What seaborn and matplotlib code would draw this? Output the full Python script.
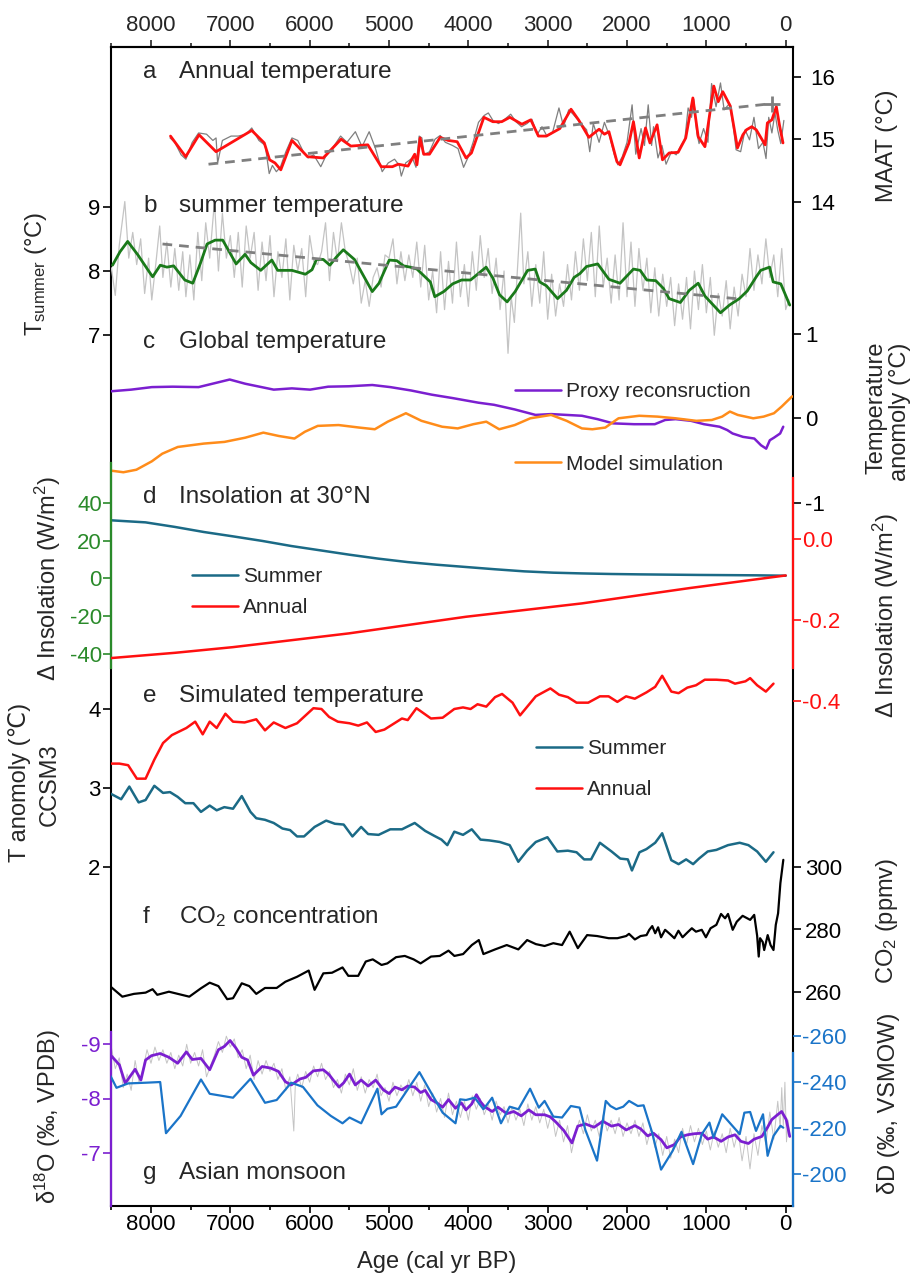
import matplotlib
matplotlib.use("Agg")
import matplotlib.pyplot as plt
import seaborn as sns

# ---------------- data ----------------
x_major = [8000, 7000, 6000, 5000, 4000, 3000, 2000, 1000, 0]
x_minor = [8500, 7500, 6500, 5500, 4500, 3500, 2500, 1500, 500]

# a  annual temperature (MAAT)
maat_age = [7754,7563,7394,7180,6730,6572,6505,6437,6364,6223,6026,5829,5604,5481,5267,5098,4957,4884,4760,4676,
            4648,4608,4563,4490,4355,4254,4141,4029,3961,3804,3691,3579,3477,3325,3213,3117,3016,2847,2706,2611,
            2481,2352,2285,2228,2127,2088,1975,1919,1846,1767,1711,1621,1553,1469,1356,1260,1170,1103,1018,906,
            850,793,698,608,540,495,428,371,259,231,174,118,79,34]
maat_val = [15.05,14.72,15.07,14.80,15.14,14.94,14.67,14.62,14.51,14.98,14.72,14.70,15.00,14.89,14.91,14.56,14.56,14.60,14.57,14.76,
            14.59,15.02,14.76,14.76,15.03,14.98,14.96,14.70,14.78,15.35,15.28,15.28,15.35,15.24,15.31,15.05,15.05,15.17,15.48,15.31,
            15.03,15.16,15.08,15.12,14.64,14.59,14.94,15.28,14.70,15.18,14.94,15.23,14.67,14.78,14.79,15.02,15.66,15.04,14.88,15.85,
            15.60,15.76,15.53,14.86,15.07,15.15,15.20,15.15,14.91,15.26,15.31,15.52,15.23,14.94]
maat_raw_age = [7760,7700,7620,7560,7480,7400,7300,7220,7180,7160,
                7100,6990,6900,6800,6730,6640,6560,6510,6470,6420,
                6370,6300,6223,6150,6080,6020,5950,5860,5800,5700,
                5610,5530,5424,5340,5250,5170,5086,5010,4930,4870,
                4845,4790,4705,4660,4620,4585,4560,4490,4420,4355,
                4290,4200,4130,4060,4000,3940,3872,3800,3748,3690,
                3620,3540,3466,3400,3330,3260,3200,3130,3072,3010,
                2940,2858,2800,2735,2680,2594,2509,2470,2425,2352,
                2285,2220,2160,2116,2060,2000,1936,1890,1823,1780,
                1733,1690,1666,1610,1560,1508,1440,1380,1320,1271,
                1230,1187,1159,1120,1092,1035,980,934,878,822,
                776,709,660,625,568,512,456,400,343,287,
                248,214,174,135,101,62,23]
maat_raw_val = [15.02,14.95,14.75,14.68,14.95,15.10,15.08,14.98,15.02,14.62,
                14.98,15.05,15.05,15.08,15.18,14.98,14.90,14.45,14.58,14.48,
                14.55,14.80,15.02,14.98,14.80,14.70,14.75,14.56,14.72,14.88,
                15.05,14.95,15.12,14.88,15.12,14.85,14.48,14.62,14.68,14.58,
                14.41,14.62,14.70,14.55,15.05,15.02,14.75,14.80,15.00,15.06,
                14.95,14.90,14.85,14.55,14.72,14.95,15.27,15.38,15.42,15.30,
                15.25,15.32,15.40,15.28,15.20,15.25,15.32,15.08,15.20,15.05,
                15.10,15.50,15.20,15.47,15.40,15.27,15.15,14.80,15.25,14.95,
                15.27,15.05,14.75,14.59,14.72,14.95,15.55,14.76,15.17,14.90,
                15.55,14.90,15.20,14.70,14.90,14.60,14.80,14.75,14.90,15.00,
                15.50,15.35,15.64,15.10,14.93,15.17,14.95,15.89,15.52,15.90,
                15.47,15.57,15.20,14.83,14.80,15.15,14.99,15.35,14.85,14.95,
                14.69,15.35,15.10,15.42,15.15,14.93,15.30]
maat_trend_age = [7275, 170]
maat_trend_val = [14.60, 15.57]

# b  summer temperature
tsum_age = [8485,8390,8294,8165,8024,7979,7883,7799,7714,7574,
            7473,7377,7293,7191,7096,7023,6927,6814,6741,6617,
            6477,6403,6223,6054,5970,5914,5829,5745,5661,5576,
            5436,5211,5126,4997,4901,4817,4732,4648,4479,4423,
            4310,4198,4085,3972,3776,3691,3607,3511,3410,3253,
            3157,3101,3016,2875,2763,2667,2594,2510,2369,2228,
            2088,1919,1834,1750,1638,1542,1469,1328,1215,1103,
            1018,822,709,585,484,371,315,203,158,62,-51]
tsum_val = [8.09,8.30,8.46,8.25,7.99,7.91,8.09,8.06,8.08,7.86,
            7.81,8.12,8.42,8.48,8.48,8.32,8.11,8.26,8.13,8.01,
            8.17,8.01,8.01,7.95,8.02,8.18,8.18,8.09,8.22,8.33,
            8.18,7.68,7.81,8.17,8.16,8.08,8.06,8.03,7.83,7.60,
            7.68,7.80,7.86,7.86,8.06,7.89,7.63,7.52,7.68,8.01,
            8.03,7.83,7.77,7.57,7.70,7.90,7.96,8.07,8.11,7.87,
            7.81,8.03,8.01,7.86,7.85,7.73,7.57,7.51,7.70,7.81,
            7.61,7.35,7.47,7.57,7.69,7.91,8.01,8.06,7.83,7.80,7.47]
tsum_raw_age = [8500,8450,8400,8330,8280,8230,8180,8130,8080,8030,
                7990,7940,7890,7850,7800,7750,7700,7650,7600,7560,
                7510,7460,7410,7360,7310,7260,7200,7150,7100,7050,
                7000,6950,6900,6850,6800,6750,6700,6650,6600,6550,
                6500,6450,6400,6350,6300,6250,6200,6150,6100,6050,
                6000,5950,5900,5850,5800,5750,5700,5650,5600,5550,
                5500,5450,5400,5350,5300,5250,5200,5150,5100,5050,
                5000,4950,4900,4850,4800,4750,4700,4650,4600,4550,
                4500,4450,4400,4350,4300,4250,4200,4150,4100,4050,
                4000,3950,3900,3850,3800,3750,3700,3650,3600,3550,
                3500,3460,3420,3380,3340,3300,3250,3200,3150,3100,
                3050,3000,2950,2900,2850,2800,2750,2700,2650,2600,
                2550,2500,2450,2400,2350,2300,2250,2200,2150,2100,
                2050,2000,1950,1900,1850,1800,1750,1700,1650,1600,
                1550,1500,1450,1400,1350,1300,1250,1200,1150,1100,
                1050,1000,950,900,850,800,750,700,650,600,
                550,500,450,400,350,300,250,200,150,100,
                50,0,-40]
tsum_raw_val = [8.05,7.62,8.40,9.08,8.20,8.60,8.10,8.50,7.65,8.20,
                7.55,8.10,8.70,7.90,8.45,7.75,8.35,7.70,8.30,7.60,
                8.25,7.55,8.60,7.85,8.75,8.20,9.08,8.00,8.90,8.20,
                8.55,7.90,8.60,7.75,8.70,8.20,8.60,7.70,8.45,7.85,
                8.55,7.60,8.30,7.90,8.50,7.55,8.40,8.00,8.35,7.60,
                8.55,8.15,8.10,8.30,8.75,7.85,8.60,8.15,8.75,8.30,
                8.10,7.80,8.20,7.50,7.85,7.45,7.90,8.05,7.75,8.25,
                8.20,8.50,7.80,8.30,7.85,8.25,7.90,8.45,7.75,8.40,
                7.55,8.00,7.35,8.30,7.40,8.15,7.50,8.45,7.60,8.10,
                7.45,8.30,7.70,8.55,7.90,8.35,7.65,8.20,7.40,8.00,
                6.72,7.60,7.20,8.05,8.90,7.80,8.30,7.45,8.10,7.50,
                8.30,7.25,7.95,7.30,7.80,7.45,8.10,7.55,8.30,7.70,
                8.50,7.85,8.60,7.60,8.70,7.75,8.20,7.50,8.25,7.55,
                8.75,7.60,8.45,7.45,8.35,7.70,8.20,7.35,8.05,7.30,
                7.95,7.45,7.90,7.15,7.80,7.25,7.90,7.10,8.00,7.40,
                8.10,7.35,7.90,7.00,7.65,7.30,7.85,7.10,7.75,7.30,
                7.95,7.60,8.35,7.70,8.25,7.80,8.50,7.90,8.25,7.60,
                8.35,7.40,7.55]
tsum_trend_age = [7855, 540]
tsum_trend_val = [8.42, 7.56]

# c  global temperature
proxy_age = [8511,8250,7989,7727,7400,7204,7008,6812,6453,6224,
             5995,5767,5505,5211,4983,4722,4460,4199,3872,3676,
             3415,3153,2957,2761,2568,2372,2176,1911,1650,1519,
             1388,1193,1030,834,736,670,539,396,311,246,200,148,70,31]
proxy_val = [0.32,0.34,0.37,0.375,0.37,0.415,0.46,0.41,0.34,0.355,
             0.34,0.375,0.38,0.395,0.37,0.33,0.28,0.24,0.185,0.16,
             0.105,0.04,0.05,0.04,0.03,-0.01,-0.06,-0.07,-0.07,-0.02,
             -0.01,-0.03,-0.07,-0.10,-0.14,-0.18,-0.22,-0.24,-0.32,-0.36,-0.26,-0.23,-0.18,-0.10]
model_age = [8511,8348,8184,7989,7858,7662,7335,7074,6812,6584,
             6388,6192,6061,5898,5636,5375,5179,5016,4787,4591,
             4330,4134,3937,3774,3611,3415,3219,2957,2761,2568,
             2437,2274,2107,1846,1617,1388,1127,931,801,703,605,409,278,148,50,-81]
model_val = [-0.62,-0.64,-0.61,-0.51,-0.42,-0.34,-0.30,-0.28,-0.23,-0.17,
             -0.21,-0.24,-0.16,-0.09,-0.08,-0.11,-0.13,-0.04,0.06,-0.03,
             -0.10,-0.12,-0.07,-0.04,-0.13,-0.08,0.00,0.04,-0.03,-0.12,
             -0.13,-0.11,0.00,0.03,0.02,0.00,-0.03,-0.02,0.02,0.08,0.04,0.00,0.02,0.06,0.14,0.26]

# d  insolation at 30N
ins_sum_age = [8508,8068,7700,7333,6966,6599,6232,5865,5498,5131,4764,4397,4030,3663,3296,2929,2562,2196,1829,1095,361,0]
ins_sum_val = [30.7,29.6,27.2,24.5,22.2,19.8,17.1,14.8,12.5,10.4,8.6,7.2,6.0,4.8,3.7,3.0,2.6,2.3,2.1,1.8,1.6,1.4]
ins_ann_age = [8504,7697,6966,5504,4030,2568,1205,0]
ins_ann_val = [-0.294,-0.281,-0.267,-0.233,-0.192,-0.159,-0.121,-0.090]

# e  simulated temperature (CCSM3)
sim_ann_age = [8508,8398,8288,8178,8068,7958,7848,7737,7554,7443,
               7348,7260,7172,7062,6966,6820,6673,6563,6453,6306,
               6159,5953,5851,5755,5645,5498,5388,5278,5168,5058,
               4837,4764,4654,4471,4324,4177,4067,3972,3884,3774,
               3663,3575,3443,3348,3150,2966,2856,2746,2636,2489,
               2342,2232,2122,2012,1902,1755,1645,1557,1442,1350,
               1240,1130,1020,873,727,639,507,448,360,250,154]
sim_ann_val = [3.31,3.31,3.29,3.12,3.12,3.36,3.57,3.67,3.76,3.84,
               3.68,3.84,3.76,3.94,3.84,3.83,3.87,3.73,3.83,3.76,
               3.82,4.01,4.00,3.90,3.84,3.82,3.79,3.83,3.71,3.74,
               3.88,3.86,4.01,3.88,3.89,4.00,4.02,4.00,4.06,4.03,
               4.15,4.19,4.08,3.92,4.16,4.26,4.18,4.15,4.08,4.08,
               4.16,4.16,4.09,4.16,4.13,4.21,4.28,4.42,4.22,4.20,
               4.27,4.30,4.37,4.37,4.36,4.32,4.35,4.39,4.30,4.22,4.32]
sim_sum_age = [8508,8376,8273,8156,8068,7958,7848,7760,7664,7568,
               7465,7370,7260,7172,7076,6966,6856,6746,6673,6563,
               6453,6343,6247,6159,6071,5938,5792,5682,5571,5461,
               5351,5263,5131,4984,4837,4676,4544,4434,4339,4265,
               4177,4067,3957,3847,3737,3604,3479,3370,3260,3150,
               3003,2878,2746,2636,2541,2453,2342,2195,2085,1990,
               1938,1843,1755,1645,1557,1442,1350,1255,1167,1093,
               983,873,727,580,470,360,250,154]
sim_sum_val = [2.93,2.86,3.02,2.82,2.85,3.03,2.94,2.95,2.89,2.81,
               2.81,2.70,2.78,2.72,2.76,2.74,2.90,2.70,2.62,2.60,
               2.56,2.49,2.47,2.39,2.39,2.51,2.59,2.55,2.54,2.39,
               2.51,2.42,2.41,2.48,2.48,2.56,2.46,2.40,2.35,2.28,
               2.45,2.41,2.48,2.35,2.34,2.32,2.28,2.07,2.21,2.32,
               2.38,2.20,2.21,2.19,2.10,2.10,2.31,2.20,2.11,2.10,
               1.96,2.19,2.23,2.31,2.43,2.09,2.04,2.10,2.04,2.11,
               2.20,2.22,2.28,2.31,2.28,2.20,2.07,2.19]

# f  CO2
co2_age = [8508,8361,8215,8068,7980,7921,7774,7517,7370,7260,
           7150,7040,6966,6856,6761,6673,6563,6416,6306,6159,
           6012,5938,5828,5718,5586,5513,5388,5293,5205,5094,
           5021,4911,4801,4690,4602,4470,4360,4250,4176,4066,
           3956,3868,3810,3663,3516,3370,3259,3149,3039,2929,
           2819,2723,2620,2503,2378,2231,2121,2011,1975,1901,
           1829,1754,1719,1682,1645,1608,1571,1520,1462,1403,
           1352,1300,1241,1183,1131,1058,1006,947,874,815,
           764,727,668,617,543,448,397,360,340,323,
           290,271,227,191,154,125,96,67,30]
co2_val = [261.6,258.4,259.3,259.7,260.8,259.0,260.0,258.4,261.1,262.9,
           261.8,257.6,257.9,262.7,261.8,259.3,261.2,261.2,263.2,264.8,
           266.8,260.6,265.9,266.1,267.8,265.1,265.1,269.7,270.4,268.6,
           269.1,271.1,271.5,270.4,269.1,271.3,271.5,273.2,271.5,272.1,
           275.0,276.6,272.1,273.6,275.0,273.6,276.6,275.3,274.7,275.6,
           275.0,279.3,274.0,278.2,277.9,277.2,277.2,277.9,278.6,276.8,
           277.9,278.2,279.9,281.1,278.8,280.7,277.5,279.9,278.6,277.2,
           279.6,277.5,279.0,280.4,279.3,279.9,277.5,280.4,281.5,285.0,
           283.6,285.0,279.9,282.5,284.4,283.1,284.7,278.0,271.3,277.2,
           276.0,273.4,278.2,275.0,273.4,281.5,285.2,294.9,302.4]

# g  Asian monsoon
d18o_age = [8508,8398,8325,8200,8127,8068,7994,7884,7774,7664,
            7554,7480,7370,7260,7150,7076,7003,6929,6856,6782,
            6709,6599,6489,6394,6306,6232,6122,6049,5953,5828,
            5755,5703,5630,5571,5498,5425,5351,5263,5168,5072,
            4998,4925,4837,4764,4676,4602,4544,4470,4397,4324,
            4250,4162,4089,4030,3957,3898,3847,3796,3700,3626,
            3516,3428,3333,3238,3150,3039,2966,2893,2797,2694,
            2621,2525,2415,2305,2195,2107,2011,1901,1828,1740,
            1667,1571,1498,1402,1328,1240,1152,1057,983,910,
            814,727,639,565,470,397,301,228,176,103,51,-7,-51]
d18o_val = [-8.80,-8.62,-8.28,-8.54,-8.34,-8.71,-8.79,-8.83,-8.76,-8.65,
            -8.86,-8.72,-8.74,-8.53,-8.90,-8.96,-9.07,-8.93,-8.76,-8.71,
            -8.43,-8.59,-8.56,-8.50,-8.31,-8.25,-8.36,-8.39,-8.51,-8.53,
            -8.44,-8.34,-8.21,-8.29,-8.45,-8.25,-8.34,-8.23,-8.34,-8.16,
            -8.09,-8.21,-8.16,-8.23,-8.21,-8.11,-8.15,-7.98,-7.92,-7.84,
            -7.98,-7.82,-7.92,-7.79,-7.90,-8.07,-7.94,-7.85,-7.76,-7.84,
            -7.72,-7.76,-7.68,-7.79,-7.70,-7.70,-7.66,-7.56,-7.41,-7.18,
            -7.49,-7.53,-7.47,-7.58,-7.49,-7.52,-7.42,-7.50,-7.44,-7.31,
            -7.36,-7.24,-7.09,-7.15,-7.29,-7.33,-7.35,-7.36,-7.25,-7.29,
            -7.21,-7.29,-7.33,-7.21,-7.17,-7.25,-7.30,-7.47,-7.61,-7.70,-7.76,-7.61,-7.30]
d18o_raw_age = [8500,8450,8400,8350,8300,8250,8200,8150,8100,8050,
                8000,7950,7900,7850,7800,7750,7700,7650,7600,7550,
                7500,7450,7400,7350,7300,7250,7200,7150,7100,7050,
                7000,6950,6900,6850,6800,6750,6700,6650,6600,6550,
                6500,6450,6400,6350,6300,6250,6200,6180,6150,6100,
                6050,6000,5950,5900,5850,5800,5750,5700,5650,5600,
                5550,5500,5450,5400,5350,5300,5250,5200,5150,5100,
                5050,5000,4950,4900,4850,4800,4750,4700,4650,4600,
                4550,4500,4450,4400,4350,4300,4250,4200,4150,4100,
                4050,4000,3950,3900,3850,3800,3750,3700,3650,3600,
                3550,3500,3450,3400,3350,3300,3250,3200,3150,3100,
                3050,3000,2950,2900,2850,2800,2750,2700,2650,2600,
                2550,2500,2450,2400,2350,2300,2250,2200,2150,2100,
                2050,2000,1950,1900,1850,1800,1750,1700,1650,1600,
                1550,1500,1450,1400,1350,1300,1250,1200,1150,1100,
                1050,1000,950,900,850,800,750,700,650,600,
                550,500,450,400,350,300,250,200,150,100,
                70,50,30,10,-10,-30,-50]
d18o_raw_val = [-8.95,-8.55,-8.75,-8.20,-8.45,-8.15,-8.70,-8.30,-8.55,-8.90,
                -8.65,-8.95,-8.70,-8.90,-8.65,-8.85,-8.55,-8.80,-8.60,-9.00,
                -8.65,-8.85,-8.60,-8.90,-8.40,-8.60,-8.80,-9.05,-8.85,-9.15,
                -8.95,-9.10,-8.75,-8.90,-8.55,-8.80,-8.35,-8.70,-8.45,-8.70,
                -8.50,-8.65,-8.35,-8.55,-8.15,-8.40,-7.40,-8.30,-8.45,-8.20,
                -8.50,-8.30,-8.60,-8.40,-8.65,-8.35,-8.50,-8.20,-8.35,-8.10,
                -8.45,-8.25,-8.55,-8.15,-8.40,-8.10,-8.35,-8.20,-8.45,-8.05,
                -8.20,-7.95,-8.30,-8.05,-8.25,-8.10,-8.35,-8.05,-8.30,-7.95,
                -8.25,-7.85,-8.10,-7.75,-8.00,-7.65,-8.10,-7.70,-7.95,-7.65,
                -7.95,-7.60,-8.05,-7.80,-8.00,-7.70,-7.90,-7.60,-7.95,-7.70,
                -7.85,-7.55,-7.85,-7.60,-7.80,-7.50,-7.90,-7.60,-7.85,-7.55,
                -7.80,-7.45,-7.75,-7.30,-7.60,-7.20,-7.50,-7.00,-7.35,-7.60,
                -7.35,-7.70,-7.40,-7.60,-7.30,-7.70,-7.40,-7.60,-7.35,-7.65,
                -7.30,-7.55,-7.35,-7.60,-7.30,-7.55,-7.15,-7.45,-7.10,-7.35,
                -6.95,-7.30,-6.90,-7.25,-7.00,-7.45,-7.15,-7.50,-7.20,-7.45,
                -7.15,-7.40,-7.05,-7.40,-7.10,-7.35,-7.00,-7.45,-7.10,-7.40,
                -6.85,-7.30,-6.70,-7.35,-6.95,-7.50,-7.15,-7.75,-7.25,-7.95,
                -7.45,-8.20,-7.50,-8.30,-7.20,-7.60,-7.35]
dD_age = [8508,8435,8288,8068,7884,7811,7627,7370,7260,6966,
          6746,6563,6416,6232,6085,5902,5733,5586,5498,5351,
          5146,5094,5021,4911,4764,4617,4470,4324,4162,4104,
          4030,3920,3810,3700,3589,3479,3369,3222,3112,3039,
          2929,2819,2708,2598,2525,2378,2268,2209,2136,2048,
          1974,1864,1791,1681,1571,1424,1313,1167,1057,961,
          910,800,690,580,521,448,374,286,228,154,66,30]
dD_val = [-242.4,-237.4,-239.3,-239.6,-239.9,-217.7,-225.2,-241.0,-234.8,-233.1,
          -241.3,-230.9,-232.1,-239.6,-237.8,-229.8,-225.2,-222.0,-224.5,-222.0,
          -237.0,-225.9,-228.3,-229.2,-236.7,-244.2,-235.3,-226.6,-222.0,-232.4,
          -232.1,-233.1,-228.1,-233.1,-222.0,-229.2,-228.1,-237.0,-228.8,-231.7,
          -224.9,-224.5,-229.5,-228.8,-219.1,-205.8,-231.7,-229.5,-228.1,-229.2,
          -231.7,-229.5,-229.8,-217.7,-201.9,-210.1,-218.3,-204.3,-217.3,-222.3,
          -215.8,-225.9,-221.6,-217.3,-226.6,-226.9,-218.7,-225.9,-207.9,-216.5,-220.9,-220.1]

for a_, b_ in [(maat_age, maat_val), (maat_raw_age, maat_raw_val), (tsum_age, tsum_val),
               (tsum_raw_age, tsum_raw_val), (proxy_age, proxy_val), (model_age, model_val),
               (ins_sum_age, ins_sum_val), (ins_ann_age, ins_ann_val), (sim_ann_age, sim_ann_val),
               (sim_sum_age, sim_sum_val), (co2_age, co2_val), (d18o_age, d18o_val),
               (d18o_raw_age, d18o_raw_val), (dD_age, dD_val)]:
    assert len(a_) == len(b_), (len(a_), len(b_))

# ---------------- style ----------------
sns.set_theme(style="white")
plt.rcParams["font.family"] = ["Liberation Sans", "DejaVu Sans"]
plt.rcParams["axes.unicode_minus"] = False
plt.rcParams["mathtext.fontset"] = "custom"
plt.rcParams["mathtext.rm"] = "Liberation Sans"
plt.rcParams["mathtext.it"] = "Liberation Sans:italic"
plt.rcParams["mathtext.bf"] = "Liberation Sans:bold"

RED = "#ff1010"
GREEN = "#1a7a1a"
GREEN_T = "#2a8a2a"
PURPLE = "#7b1fd0"
ORANGE = "#ff8c1a"
TEAL = "#1b6a86"
BLUE = "#1a74c8"
GRAY = "#7f7f7f"
LGRAY = "#c4c4c4"

W, H = 913, 1275
fig = plt.figure(figsize=(W / 100, H / 100), dpi=100)
L, R, T, B = 111, 793, 47, 1206
rect = [L / W, 1 - B / H, (R - L) / W, (B - T) / H]
XLIM = (8504, -92)
TS = 16


def px_lims(v1, p1, v2, p2):
    s = (v2 - v1) / (p2 - p1)
    return v1 + (B - p1) * s, v1 + (T - p1) * s


def px_val(v1, p1, v2, p2, p):
    s = (v2 - v1) / (p2 - p1)
    return v1 + (p - p1) * s


def ftext(x, y, s, **kw):
    kw.setdefault("ha", "left")
    kw.setdefault("va", "center")
    kw.setdefault("fontsize", TS)
    return fig.text(x / W, 1 - y / H, s, **kw)


# main frame
ax0 = fig.add_axes(rect)
ax0.patch.set_visible(False)
ax0.set_xlim(XLIM)
ax0.set_yticks([])
ax0.set_xticks(x_major)
ax0.set_xticks(x_minor, minor=True)
ax0.set_xticklabels([str(v) for v in x_major])
ax0.tick_params(axis="x", which="both", direction="out", bottom=True, top=False,
                labelbottom=True, width=1.2, labelsize=TS, pad=1, colors="black")
ax0.tick_params(axis="x", which="major", length=5)
ax0.tick_params(axis="x", which="minor", length=3)
for s in ax0.spines.values():
    s.set_color("black")
    s.set_linewidth(1.5)
sec = ax0.secondary_xaxis("top")
sec.set_xticks(x_major)
sec.set_xticks(x_minor, minor=True)
sec.set_xticklabels([str(v) for v in x_major])
sec.tick_params(axis="x", which="both", direction="out", width=1.2, labelsize=TS, pad=3)
sec.tick_params(axis="x", which="major", length=5)
sec.tick_params(axis="x", which="minor", length=3)
sec.spines["top"].set_linewidth(1.5)


def panel(side, cal, ticks, color="black", spine_px=None, pad=2, fmt=None):
    ax = fig.add_axes(rect)
    ax.patch.set_visible(False)
    for s in ax.spines.values():
        s.set_visible(False)
    ax._cal = cal
    ax._side = side
    ax._ticks = ticks
    ax._color = color
    ax._spine_px = spine_px
    ax._pad = pad
    ax._fmt = fmt
    return ax


def finish(ax):
    cal = ax._cal
    ax.set_xlim(XLIM)
    ax.xaxis.set_visible(False)
    ax.set_ylim(*px_lims(*cal))
    ax.set_xlabel("")
    ax.set_ylabel("")
    if ax._side == "right":
        ax.yaxis.tick_right()
    else:
        ax.yaxis.tick_left()
    ax.set_yticks(ax._ticks)
    if ax._fmt:
        ax.set_yticklabels([ax._fmt.format(t) for t in ax._ticks])
    else:
        ax.set_yticklabels([str(t) for t in ax._ticks])
    ax.tick_params(axis="y", direction="out", length=5.5, width=1.2, colors=ax._color,
                   labelsize=TS, pad=ax._pad)
    if ax._spine_px:
        sp = ax.spines[ax._side]
        sp.set_visible(True)
        sp.set_color(ax._color)
        sp.set_linewidth(1.6)
        sp.set_bounds(px_val(*cal, ax._spine_px[1]), px_val(*cal, ax._spine_px[0]))
    lg = ax.get_legend()
    if lg is not None:
        lg.remove()


def line(ax, x, y, color, lw, **kw):
    sns.lineplot(x=x, y=y, ax=ax, color=color, linewidth=lw, estimator=None,
                 sort=False, legend=False, **kw)


# a
ax_a = panel("right", (16, 76.7, 14, 201.7), [14, 15, 16], pad=7)
line(ax_a, maat_raw_age, maat_raw_val, GRAY, 0.9)
line(ax_a, maat_age, maat_val, RED, 2.0)
line(ax_a, maat_trend_age, maat_trend_val, GRAY, 2.0, linestyle=(0, (3.5, 2.5)))
ax_a.plot(maat_trend_age[-1:], maat_trend_val[-1:], marker="+", color=GRAY,
          markersize=12, markeredgewidth=2, linestyle="none")

# b
ax_b = panel("left", (9, 206.7, 7, 335.3), [7, 8, 9], pad=2)
line(ax_b, tsum_raw_age, tsum_raw_val, LGRAY, 0.9)
line(ax_b, tsum_age, tsum_val, GREEN, 2.0)
line(ax_b, tsum_trend_age, tsum_trend_val, GRAY, 2.0, linestyle=(0, (3.5, 2.5)))

# c
ax_c = panel("right", (1, 334, 0, 418.3), [-1, 0, 1], pad=3)
line(ax_c, proxy_age, proxy_val, PURPLE, 1.8, label="Proxy reconsruction")
line(ax_c, model_age, model_val, ORANGE, 1.8, label="Model simulation")

# d
ax_d = panel("left", (40, 502.7, -40, 654), [-40, -20, 0, 20, 40], color=GREEN_T,
             spine_px=(463, 668), pad=1)
line(ax_d, ins_sum_age, ins_sum_val, TEAL, 1.8, label="Summer")
ax_d2 = panel("right", (0.0, 539, -0.2, 620), [-0.4, -0.2, 0.0], color=RED,
              spine_px=(478, 668), pad=1, fmt="{:.1f}")
line(ax_d2, ins_ann_age, ins_ann_val, RED, 1.8, label="Annual")

# e
ax_e = panel("left", (4, 709, 2, 867.3), [2, 3, 4], pad=2)
line(ax_e, sim_ann_age, sim_ann_val, RED, 1.8, label="Annual")
line(ax_e, sim_sum_age, sim_sum_val, TEAL, 1.8, label="Summer")

# f
ax_f = panel("right", (300, 867.3, 260, 991.7), [260, 280, 300], pad=3)
line(ax_f, co2_age, co2_val, "black", 1.6)

# g
ax_g = panel("left", (-9, 1044.3, -7, 1152.7), [-9, -8, -7], color=PURPLE,
             spine_px=(1032, 1206), pad=2)
line(ax_g, d18o_raw_age, d18o_raw_val, LGRAY, 0.7)
line(ax_g, d18o_age, d18o_val, PURPLE, 2.0)
ax_g2 = panel("right", (-260, 1035.7, -200, 1174), [-260, -240, -220, -200], color=BLUE,
              spine_px=(1053, 1206), pad=1)
line(ax_g2, dD_age, dD_val, BLUE, 1.6)

for ax in [ax_a, ax_b, ax_c, ax_d, ax_d2, ax_e, ax_f, ax_g, ax_g2]:
    finish(ax)


def legend(ax, handles, labels, x, y, spacing):
    ax.legend(handles, labels, loc="upper left",
              bbox_to_anchor=(x / W, 1 - y / H), bbox_transform=fig.transFigure,
              frameon=False, fontsize=15, handlelength=2.2, handletextpad=0.25,
              labelspacing=spacing, borderpad=0, borderaxespad=0)


hc = ax_c.get_lines()
legend(ax_c, [hc[0], hc[1]], ["Proxy reconsruction", "Model simulation"], 515, 382, 2.58)
legend(ax_d2, [ax_d.get_lines()[0], ax_d2.get_lines()[0]], ["Summer", "Annual"], 192, 567, 0.59)
he = ax_e.get_lines()
legend(ax_e, [he[1], he[0]], ["Summer", "Annual"], 536, 739, 1.05)

# panel titles
titles = [("a", "Annual temperature", 72), ("b", "summer temperature", 206),
          ("c", "Global temperature", 342), ("d", "Insolation at 30°N", 497),
          ("e", "Simulated temperature", 696), ("f", "CO$_2$ concentration", 917),
          ("g", "Asian monsoon", 1173)]
for letter, txt, yy in titles:
    ftext(143, yy, letter, fontsize=17.5)
    ftext(179, yy, txt, fontsize=17.5)

# axis labels
AL = 17
ftext(36, 274, "T$_{\\mathrm{summer}}$ (°C)", rotation=90, ha="center", fontsize=AL)
ftext(48, 578, "Δ Insolation (W/m$^2$)", rotation=90, ha="center", fontsize=AL)
ftext(20, 782, "T anomoly (℃)", rotation=90, ha="center", fontsize=AL)
ftext(50, 785, "CCSM3", rotation=90, ha="center", fontsize=AL)
ftext(48, 1117, "δ$^{18}$O (‰, VPDB)", rotation=90, ha="center", fontsize=AL)

ftext(887, 146, "MAAT (°C)", rotation=90, ha="center", fontsize=AL)
ftext(876, 408, "Temperature", rotation=90, ha="center", fontsize=AL)
ftext(900, 412, "anomoly (°C)", rotation=90, ha="center", fontsize=AL)
ftext(886, 615, "Δ Insolation (W/m$^2$)", rotation=90, ha="center", fontsize=AL)
ftext(887, 921, "CO$_2$ (ppmv)", rotation=90, ha="center", fontsize=AL)
ftext(888, 1103, "δD (‰, VSMOW)", rotation=90, ha="center", fontsize=AL)

ftext(437, 1262, "Age (cal yr BP)", ha="center", fontsize=AL)

fig.savefig("out.png", dpi=100)
